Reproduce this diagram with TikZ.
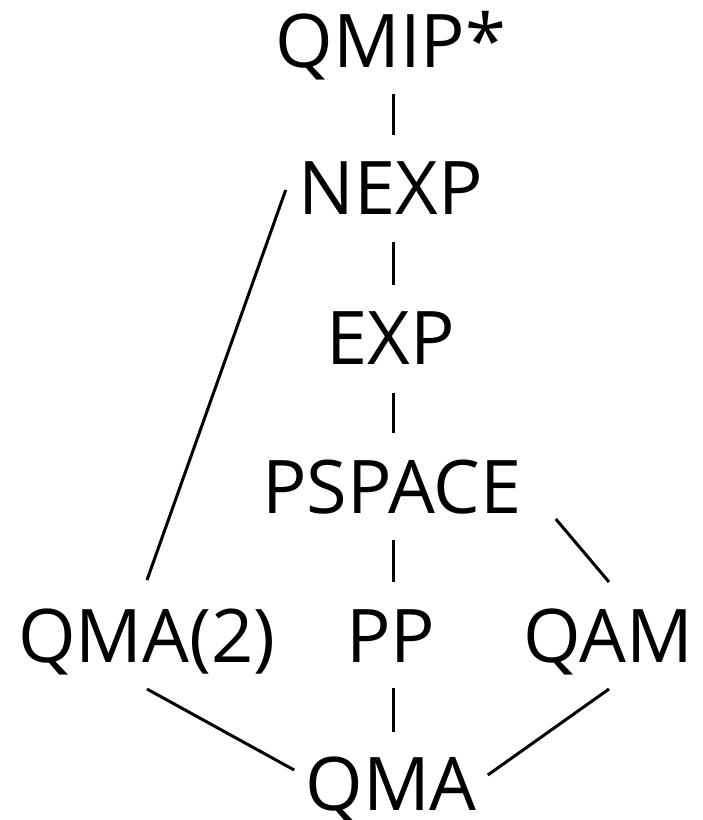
\documentclass[tikz,border=0pt]{standalone}
\usepackage{fontspec}
\setmainfont{Open Sans}
\begin{document}
\begin{tikzpicture}[x=1pt,y=-1pt,
  cls/.style={anchor=base,inner sep=0pt,font=\fontsize{74}{80}\selectfont},
  link/.style={line width=3pt}]
\useasboundingbox (0,0) rectangle (703,820);
% complexity classes, placed by baseline
\node[cls] (qmip)   at (391,67)  {QMIP*};
\node[cls] (nexp)   at (391,214) {NEXP};
\node[cls] (exp)    at (391,364) {EXP};
\node[cls] (pspace) at (392,513) {PSPACE};
\node[cls] (qma2)   at (147,662) {QMA(2)};
\node[cls] (pp)     at (391,662) {PP};
\node[cls] (qam)    at (608,662) {QAM};
\node[cls] (qma)    at (391,810) {QMA};
% inclusions
\draw[link] ([shift={(2,27)}]qmip.base)  -- ([shift={(2,-79)}]nexp.base);
\draw[link] ([shift={(2,28)}]nexp.base)  -- ([shift={(2,-79)}]exp.base);
\draw[link] ([shift={(2,29)}]exp.base)   -- ([shift={(1,-80)}]pspace.base);
\draw[link] ([shift={(1,27)}]pspace.base) -- ([shift={(2,-80)}]pp.base);
\draw[link] ([shift={(2,26)}]pp.base)    -- ([shift={(2,-78)}]qma.base);
\draw[link] ([shift={(-13,-24)}]nexp.base west) -- ([shift={(0,-82)}]qma2.base);
\draw[link] ([shift={(34,6)}]pspace.base east) -- ([shift={(1,-80)}]qam.base);
\draw[link] ([shift={(0,27)}]qma2.base) -- ([shift={(-11,-40)}]qma.base west);
\draw[link] ([shift={(1,27)}]qam.base)  -- ([shift={(11,-35)}]qma.base east);
\end{tikzpicture}
\end{document}
